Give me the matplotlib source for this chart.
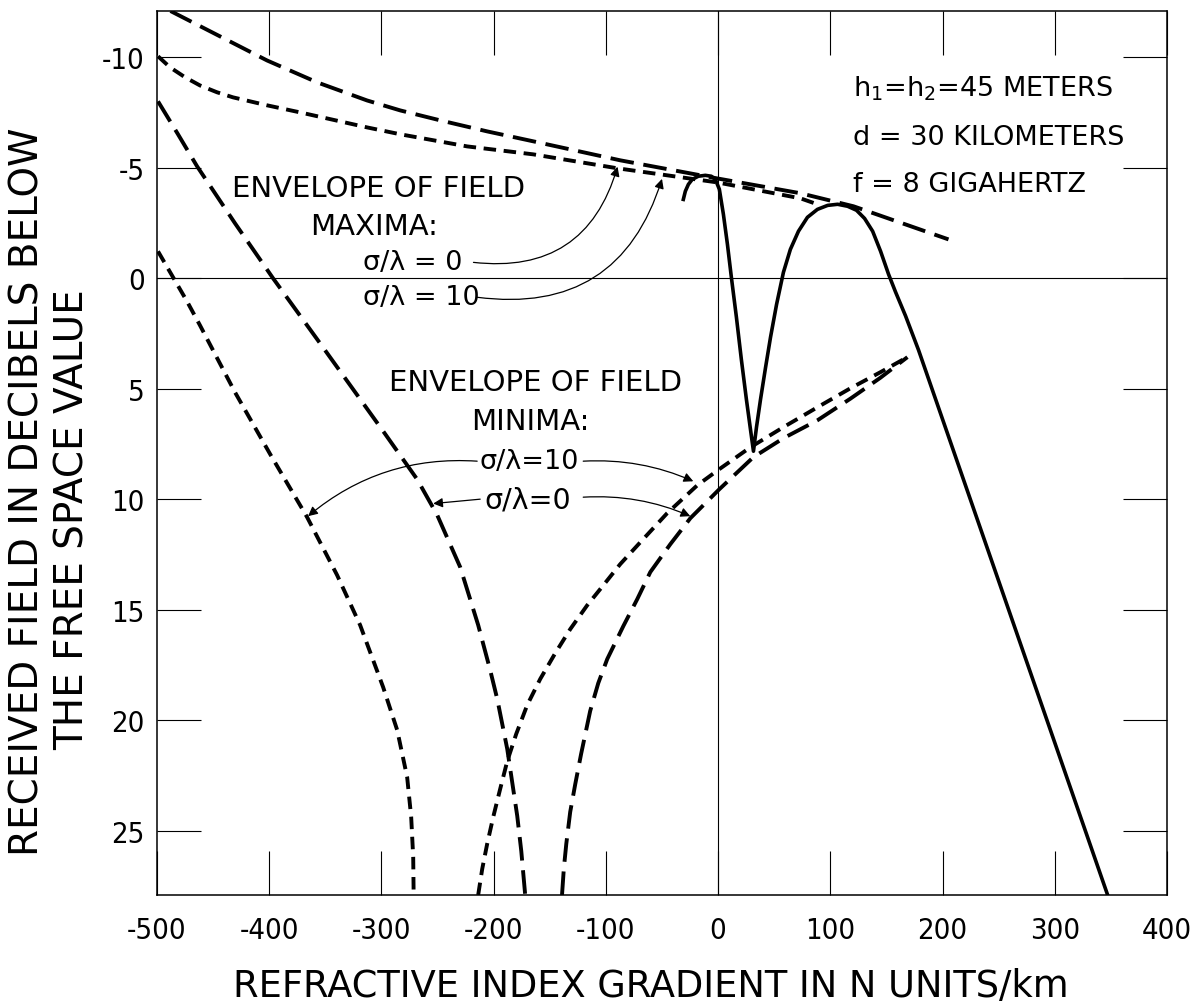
import matplotlib
matplotlib.use("Agg")
import matplotlib.pyplot as plt

# Envelope of field maxima, sigma/lambda = 0 (long dash)
max0_x = [-488, -485.7, -443.8, -401.9, -357.3, -312.8, -283.3, -247.7, -205.8, -164.7,
          -87.2, -0.7, 73.3, 120.6, 205.3]
max0_y = [-12.1, -12.04, -10.95, -9.86, -8.87, -8.05, -7.60, -7.15, -6.65, -6.20,
          -5.34, -4.52, -3.85, -3.26, -1.76]

# Envelope of field maxima, sigma/lambda = 10 (short dash)
max10_x = [-499.1, -488.4, -475.0, -461.7, -446.5, -432.2, -401.9, -372.5, -312.8,
           -283.3, -223.6, -164.7, -89.8, -0.7, 73.3, 88.5]
max10_y = [-10.05, -9.55, -9.10, -8.73, -8.42, -8.19, -7.83, -7.51, -6.83,
           -6.52, -5.97, -5.61, -4.98, -4.34, -3.62, -3.35]

# Envelope of field minima, sigma/lambda = 0 (long dash), left and right branches
min0_left_x = [-499.1, -481.3, -464.3, -430.5, -396.6, -357.3, -327.9, -298.5, -268.2,
               -250.3, -229.8, -213.8, -203.1, -196.8, -187.9, -179.0, -175.4, -171.9]
min0_left_y = [-8.01, -6.52, -5.07, -2.49, 0.0, 2.76, 4.84, 6.92, 9.10,
               10.72, 13.08, 15.70, 17.74, 19.05, 21.31, 24.34, 25.93, 27.92]
min0_right_x = [-139.1, -137.5, -135.3, -131.8, -127.3, -122.1, -114.0, -106.8, -98.8,
                -84.5, -72.0, -60.4, -42.6, -24.7, 1.1, 31.4, 58.2, 88.5, 117.9,
                144.7, 168.7]
min0_right_y = [27.92, 26.74, 25.61, 24.16, 22.90, 21.54, 19.59, 18.33, 17.24,
                15.75, 14.52, 13.30, 12.04, 10.86, 9.55, 8.10, 7.24, 6.43, 5.45,
                4.50, 3.57]

# Envelope of field minima, sigma/lambda = 10 (short dash), left and right branches
min10_left_x = [-499.1, -473.3, -461.7, -430.5, -399.2, -366.3, -339.5, -319.0, -298.5,
                -286.0, -277.1, -273.5, -271.7, -271.3]
min10_left_y = [-1.22, 1.04, 2.13, 5.16, 7.96, 10.81, 13.44, 15.70, 18.51,
                20.45, 22.58, 24.39, 26.20, 27.92]
min10_right_x = [-213.8, -210.2, -205.8, -200.4, -194.2, -187.9, -179.9, -170.1, -158.5,
                 -145.1, -131.7, -116.6, -105.0, -87.2, -69.3, -45.3, -18.5, 1.1,
                 28.8, 58.2, 88.5, 117.9, 144.7, 168.7]
min10_right_y = [27.92, 26.74, 25.61, 24.39, 23.12, 21.86, 20.63, 19.32, 18.14,
                 16.97, 15.88, 14.80, 14.07, 12.94, 11.95, 10.63, 9.37, 8.64,
                 7.65, 6.74, 5.84, 4.98, 4.25, 3.57]

# Computed field (solid)
field_x = [-31.0, -29.2, -26.5, -23.0, -17.6, -11.4, -6.1, -2.5, 1.1, 4.7, 8.3, 11.8,
           16.3, 20.7, 25.2, 28.8, 31.5, 34.2, 37.8, 42.3, 46.7, 52.1, 58.2, 64.4,
           71.6, 79.6, 88.5, 97.6, 106.5, 115.4, 123.3, 130.5, 137.7, 144.8, 151.9,
           158.1, 167.0, 178.6, 347.1]
field_y = [-3.57, -3.94, -4.25, -4.48, -4.62, -4.66, -4.62, -4.48, -4.03, -2.90, -1.54,
           -0.05, 1.76, 3.67, 5.48, 6.83, 7.83, 6.74, 5.48, 4.03, 2.67, 1.18, -0.27,
           -1.31, -2.13, -2.76, -3.12, -3.30, -3.35, -3.26, -3.08, -2.71, -2.13, -1.22,
           -0.18, 0.62, 1.70, 3.25, 27.92]

X_TICKS = list(range(-500, 401, 100))
Y_TICKS = [-10, -5, 0, 5, 10, 15, 20, 25]

LONG = (17, 7)
SHORT = (9, 5.5)
TICK_FONT = ["Liberation Sans Narrow", "DejaVu Sans"]

plt.rcParams["lines.scale_dashes"] = False
plt.rcParams["axes.unicode_minus"] = False
plt.rcParams["font.family"] = ["DejaVu Sans"]

fig = plt.figure(figsize=(12, 10.04), dpi=100)
ax = fig.add_axes([157 / 1200, 1 - 896 / 1004, 1010 / 1200, 884 / 1004])

ax.axvline(0, color="k", lw=0.8, zorder=1)
ax.axhline(0, color="k", lw=0.8, zorder=1)

ax.plot(max0_x, max0_y, color="k", lw=2.8, dashes=LONG)
ax.plot(max10_x, max10_y, color="k", lw=2.8, dashes=SHORT)
ax.plot(min0_left_x, min0_left_y, color="k", lw=2.8, dashes=LONG)
ax.plot(min0_right_x, min0_right_y, color="k", lw=2.8, dashes=LONG)
ax.plot(min10_left_x, min10_left_y, color="k", lw=2.8, dashes=SHORT)
ax.plot(min10_right_x, min10_right_y, color="k", lw=2.8, dashes=SHORT)
ax.plot(field_x, field_y, color="k", lw=2.6, solid_joinstyle="round")

ax.set_xlim(-500, 400)
ax.set_ylim(27.92, -12.1)
ax.set_xticks(X_TICKS)
ax.set_yticks(Y_TICKS)
ax.set_xticklabels([str(v) for v in X_TICKS], family=TICK_FONT, stretch="condensed", fontsize=21)
ax.set_yticklabels([str(v) for v in Y_TICKS], family=TICK_FONT, stretch="condensed", fontsize=21)
ax.tick_params(direction="in", length=32, width=0.8, top=True, right=True)
ax.tick_params(axis="x", pad=15)
ax.tick_params(axis="y", pad=9)
for sp in ax.spines.values():
    sp.set_linewidth(1.1)

# annotation: maxima
big = dict(fontsize=21, color="k")
small = dict(fontsize=19.5, color="k")
ax.text(-303, -4.07, "ENVELOPE OF FIELD", ha="center", va="center", **big)
ax.text(-307, -2.35, "MAXIMA:", ha="center", va="center", **big)
ax.text(-316, -0.72, "σ/λ = 0", ha="left", va="center", **small)
ax.text(-316, 0.86, "σ/λ = 10", ha="left", va="center", **small)

arrow = dict(arrowstyle="-|>", lw=0.9, color="k", mutation_scale=14, shrinkA=0, shrinkB=0)
ax.annotate("", xy=(-89.6, -5.05), xytext=(-218, -0.72),
            arrowprops=dict(arrow, connectionstyle="arc3,rad=0.42"))
ax.annotate("", xy=(-50, -4.5), xytext=(-214.7, 0.86),
            arrowprops=dict(arrow, connectionstyle="arc3,rad=0.42"))

# annotation: minima
ax.text(-162.5, 4.7, "ENVELOPE OF FIELD", ha="center", va="center", **big)
ax.text(-167.4, 6.47, "MINIMA:", ha="center", va="center", **big)
ax.text(-168, 8.28, "σ/λ=10", ha="center", va="center", fontsize=19.5)
ax.text(-169.6, 10.0, "σ/λ=0", ha="center", va="center", fontsize=20.5)
ax.annotate("", xy=(-22.1, 9.19), xytext=(-120.2, 8.28),
            arrowprops=dict(arrow, connectionstyle="arc3,rad=-0.12"))
ax.annotate("", xy=(-24.8, 10.77), xytext=(-120.2, 9.91),
            arrowprops=dict(arrow, connectionstyle="arc3,rad=-0.12"))
ax.annotate("", xy=(-365.4, 10.77), xytext=(-214.7, 8.28),
            arrowprops=dict(arrow, connectionstyle="arc3,rad=0.2"))
ax.annotate("", xy=(-253.9, 10.2), xytext=(-212, 10.0),
            arrowprops=dict(arrow, connectionstyle="arc3,rad=0.0"))

# parameters
ax.text(120.6, -8.64, r"h$_\mathregular{1}$=h$_\mathregular{2}$=45 METERS", ha="left", va="center", **small)
ax.text(120.6, -6.38, "d = 30 KILOMETERS", ha="left", va="center", **small)
ax.text(120.6, -4.25, "f = 8 GIGAHERTZ", ha="left", va="center", **small)

fig.text(651 / 1200, 1 - 987 / 1004, "REFRACTIVE INDEX GRADIENT IN N UNITS/km",
         ha="center", va="center", fontsize=26.5)
fig.text(28 / 1200, 1 - 492 / 1004, "RECEIVED FIELD IN DECIBELS BELOW",
         ha="center", va="center", rotation=90, fontsize=28)
fig.text(73 / 1200, 1 - 520 / 1004, "THE FREE SPACE VALUE",
         ha="center", va="center", rotation=90, fontsize=28)

fig.savefig("out.png", dpi=100)
